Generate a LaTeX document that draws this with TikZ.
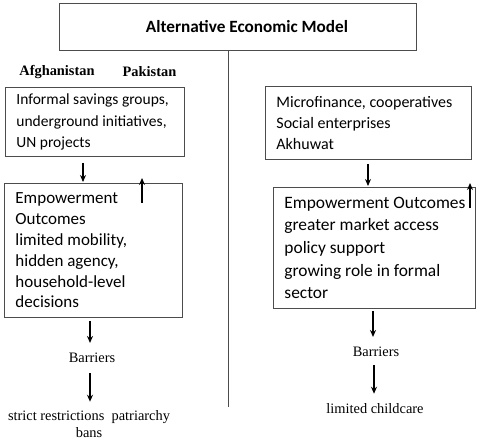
\documentclass[tikz,border=0pt]{standalone}
\usepackage{fontspec}
\setmainfont{Carlito}
\newfontfamily\serifx{Liberation Serif}
\usetikzlibrary{arrows.meta}
\newcommand{\boxline}[1]{\mbox{#1}}
\begin{document}
\begin{tikzpicture}[x=1pt,y=-1pt,
  box/.style={draw=black!70, line width=0.9pt, anchor=north west, inner xsep=11pt, inner ysep=0pt, align=flush left},
  arr/.style={-{Stealth[length=7pt,width=6pt]}, line width=1.2pt},
  lbl/.style={font=\serifx\fontsize{14.4}{17}\selectfont, align=center, inner sep=0pt},
  cty/.style={font=\serifx\bfseries\fontsize{14.4}{17}\selectfont, inner sep=0pt}]
\useasboundingbox (0,0) rectangle (480,440);
\node[draw=black!70, line width=0.9pt, minimum width=357pt, minimum height=47pt, inner sep=0pt,
  font=\bfseries\fontsize{17.2}{20}\selectfont] (title) at (237.5,26.5) {\hspace*{19pt}Alternative Economic Model};
\coordinate (vend) at (228,407);
\draw[black!70, line width=0.8pt] (title.south -| vend) -- (vend);
\node[cty] (afg) at (57,72) {Afghanistan};
\node[cty] (pak) at (149.5,72) {Pakistan};
% left column
\node[box, font=\fontsize{15.5}{21.8}\selectfont, text width=157pt, minimum height=69pt] (l1) at (5,87)
  {\boxline{Informal savings groups,}\\ \boxline{underground initiatives,}\\ \boxline{UN projects}};
\node[box, font=\fontsize{17}{20.8}\selectfont, text width=156pt, minimum height=134pt] (l2) at (4,183)
  {\boxline{Empowerment}\\ \boxline{Outcomes}\\ \boxline{limited mobility,}\\ \boxline{hidden agency,}\\ \boxline{household-level}\\ \boxline{decisions}};
\node[lbl] (bl) at (92,358) {Barriers};
\node[lbl] (btl) at (89,424.5) {strict restrictions\ \ patriarchy\\ bans};
\draw[arr] ([xshift=78pt,yshift=-6pt]l1.south west) -- ([xshift=79pt,yshift=1pt]l2.north west);
\draw[arr] ([xshift=138pt,yshift=-20pt]l2.north west) -- ([xshift=138pt,yshift=5pt]l2.north west);
\draw[arr] ([xshift=86pt,yshift=-3pt]l2.south west) -- ([xshift=-2pt,yshift=10pt]bl.north);
\draw[arr] ([xshift=-2pt,yshift=-10pt]bl.south) -- ([xshift=1pt,yshift=9pt]btl.north);
% right column
\node[box, font=\fontsize{16}{21}\selectfont, text width=184pt, minimum height=73pt] (r1) at (265,86)
  {\boxline{Microfinance, cooperatives}\\ \boxline{Social enterprises}\\ \boxline{Akhuwat}};
\node[box, font=\fontsize{17.4}{22.7}\selectfont, text width=180pt, minimum height=121pt] (r2) at (273,187)
  {\boxline{Empowerment Outcomes}\\ \boxline{greater market access}\\ \boxline{policy support}\\ \boxline{growing role in formal}\\ \boxline{sector}};
\node[lbl] (br) at (376,352) {Barriers};
\node[lbl] (btr) at (375,409) {limited childcare};
\draw[arr] ([xshift=103pt,yshift=-4pt]r1.south west) -- ([xshift=95pt,yshift=1pt]r2.north west);
\draw[arr] ([xshift=197pt,yshift=-21pt]r2.north west) -- ([xshift=197pt,yshift=4pt]r2.north west);
\draw[arr] ([xshift=100pt,yshift=-2pt]r2.south west) -- ([xshift=-3pt,yshift=10pt]br.north);
\draw[arr] ([xshift=-2pt,yshift=-8pt]br.south) -- ([xshift=-1pt,yshift=10pt]btr.north);
\end{tikzpicture}
\end{document}
